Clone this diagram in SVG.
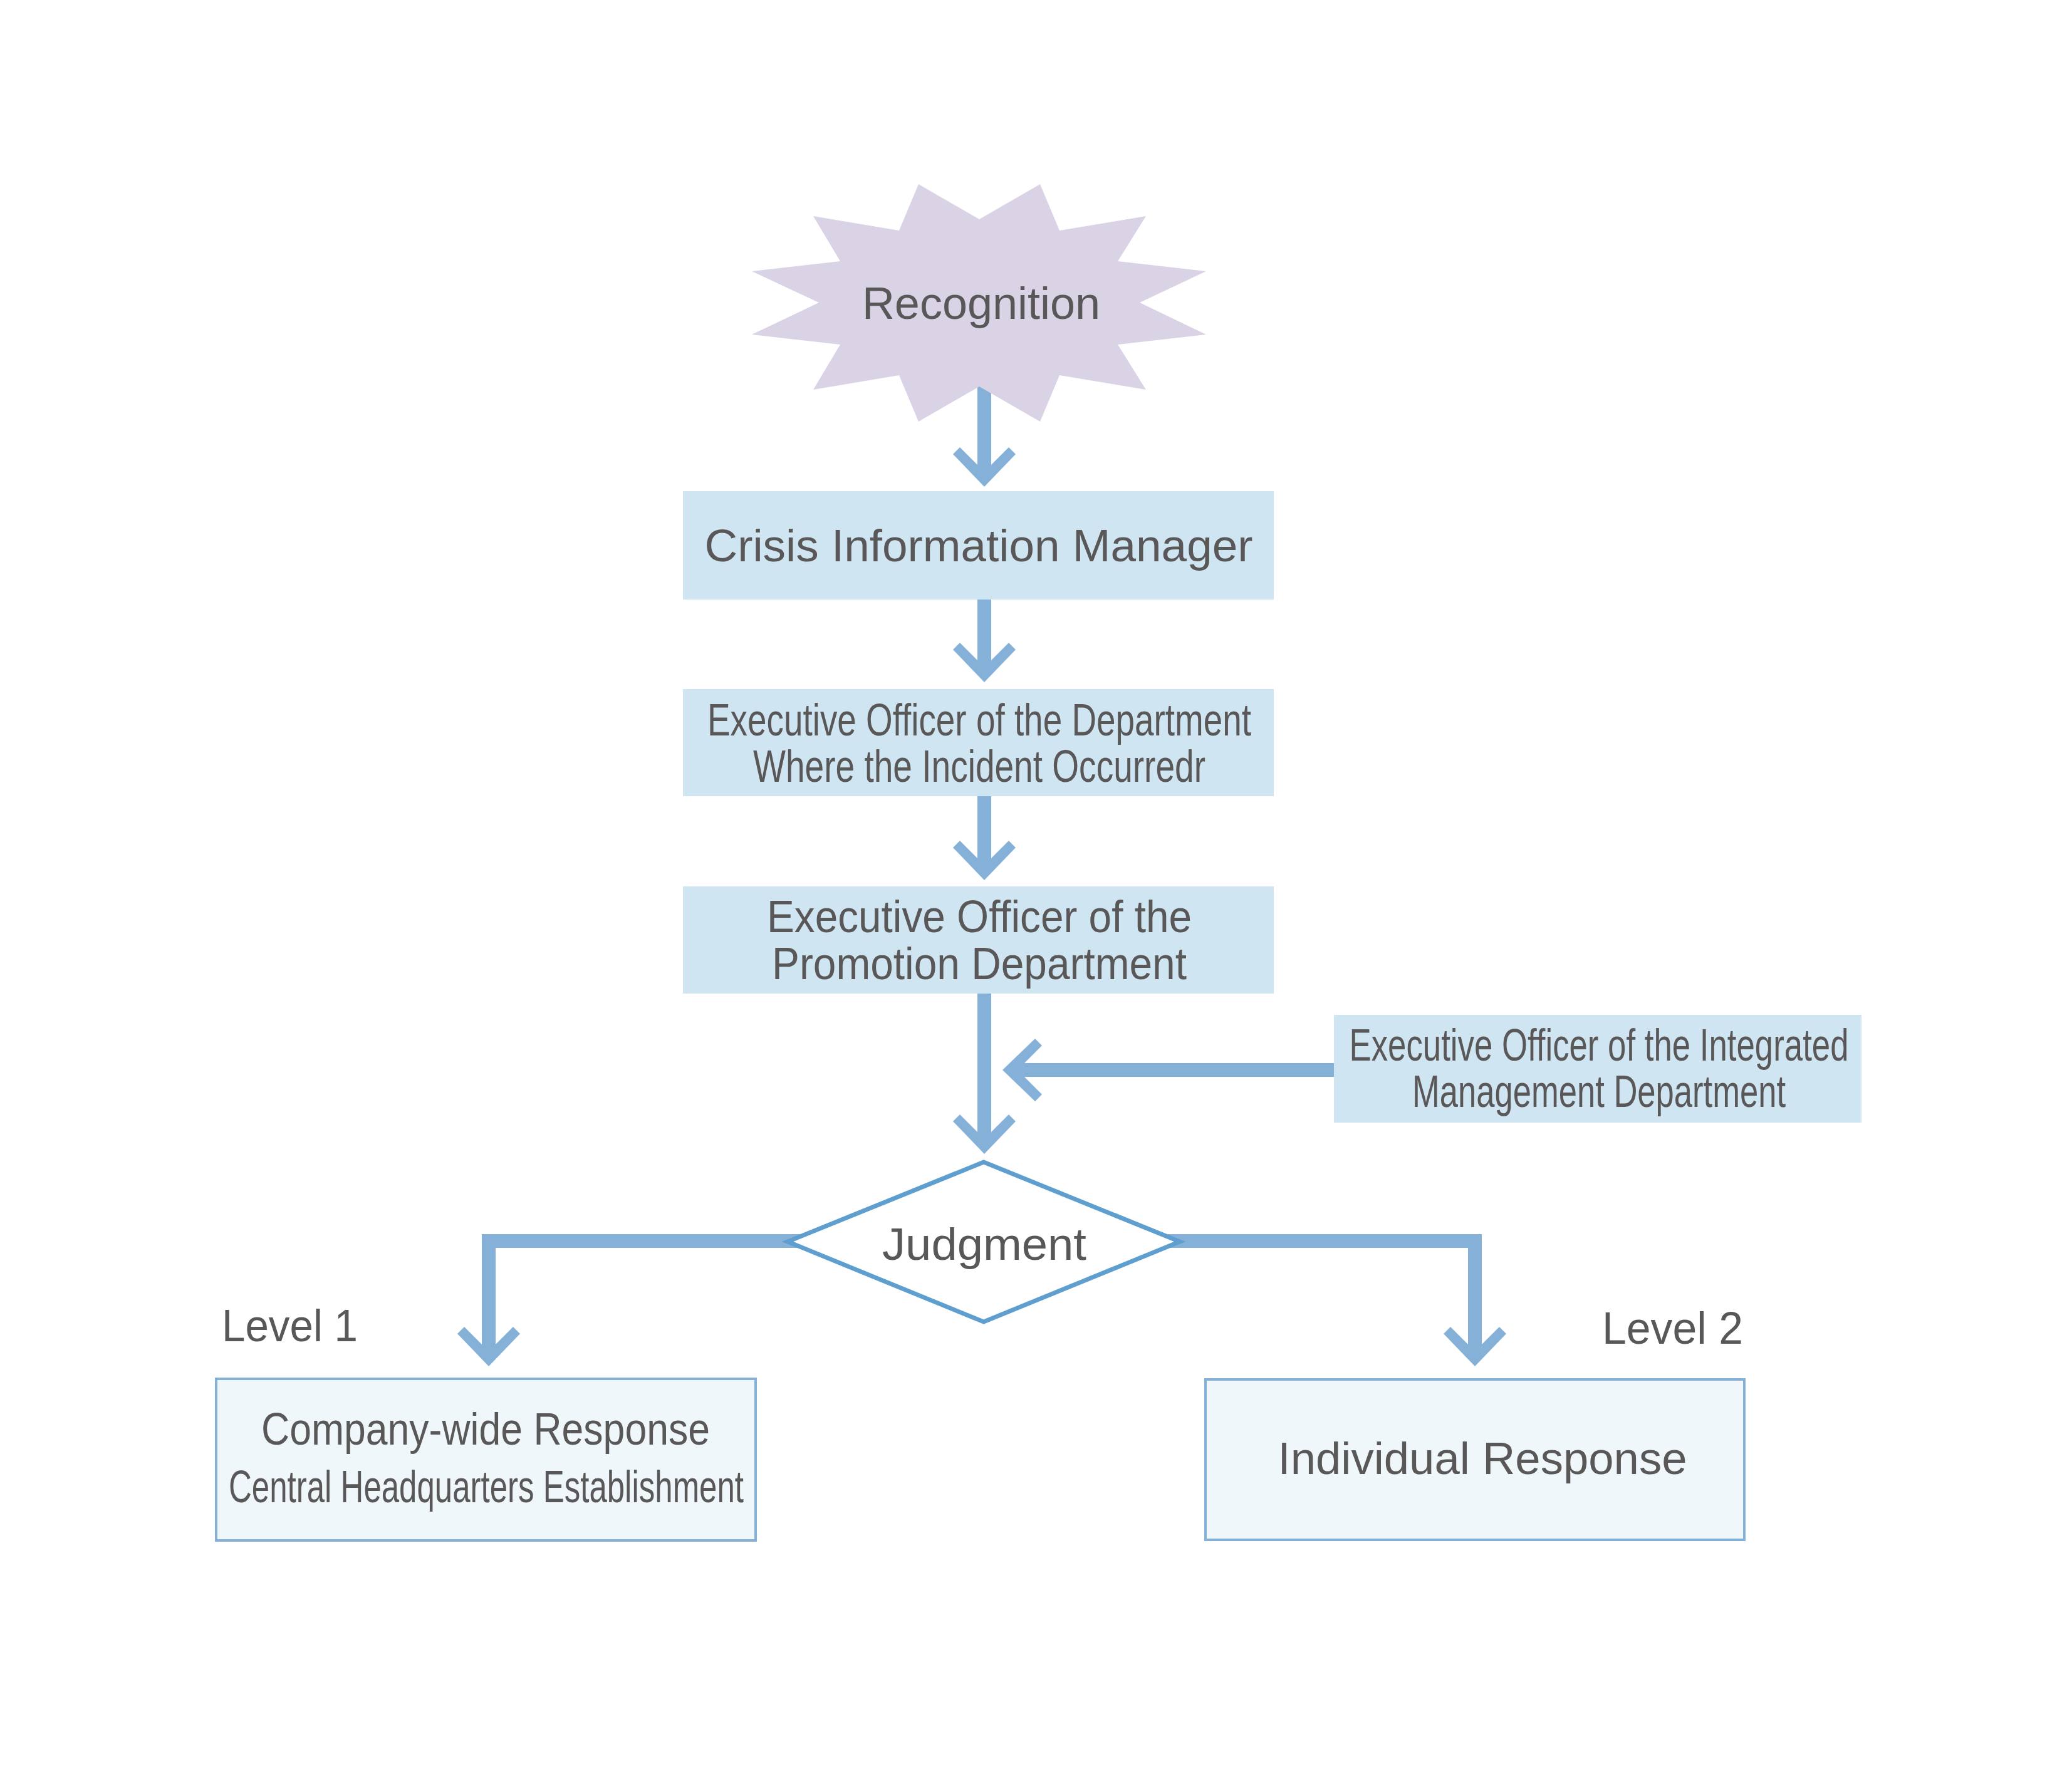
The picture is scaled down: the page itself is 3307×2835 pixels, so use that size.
<svg xmlns="http://www.w3.org/2000/svg" xmlns:xlink="http://www.w3.org/1999/xlink" width="3307" height="2835" viewBox="0 0 3307 2835">
<style>
.t{font-family:"Liberation Sans",Arial,Helvetica,sans-serif;font-size:72px;fill:#595757;text-anchor:middle}
.lvl{font-family:"Liberation Sans",Arial,Helvetica,sans-serif;font-size:72px;fill:#595757}
.box{fill:#cfe5f2}
.resp{fill:#eff7fb;stroke:#85b1d9;stroke-width:4}
.shaft{fill:none;stroke:#85b1d9;stroke-width:22;stroke-linejoin:miter}
.head{fill:#85b1d9}
</style>
<defs>
<path id="chev" d="M0 0 L-50 -52 L-39 -63 L0 -24 L39 -63 L50 -52 Z"/>
</defs>
<rect width="3307" height="2835" fill="#ffffff"/>
<g id="connectors">
<path class="shaft" d="M1571 600 V760"/>
<use xlink:href="#chev" class="head" transform="translate(1571,777)"/>
<path class="shaft" d="M1571 957 V1070"/>
<use xlink:href="#chev" class="head" transform="translate(1571,1089)"/>
<path class="shaft" d="M1571 1271 V1386"/>
<use xlink:href="#chev" class="head" transform="translate(1571,1405)"/>
<path class="shaft" d="M1571 1586 V1823"/>
<use xlink:href="#chev" class="head" transform="translate(1571,1842)"/>
<path class="shaft" d="M2129 1708 H1620"/>
<use xlink:href="#chev" class="head" transform="translate(1600,1708) rotate(90)"/>
<path class="shaft" d="M1300 1981 H780 V2162"/>
<use xlink:href="#chev" class="head" transform="translate(780,2181)"/>
<path class="shaft" d="M1840 1981 H2354 V2162"/>
<use xlink:href="#chev" class="head" transform="translate(2354,2181)"/>
</g>
<g id="recognition">
<polygon fill="#dad3e6" points="1563,350 1660,294 1691,368 1829,345 1784,417 1925,433 1819,483 1925,534 1784,550 1829,622 1691,599 1660,673 1563,617 1466,673 1435,599 1298,622 1341,550 1200,534 1307,483 1200,433 1341,417 1298,345 1435,368 1466,294"/>
<text class="t" x="1566" y="509">Recognition</text>
</g>
<g id="crisis-information-manager">
<rect class="box" x="1090" y="784" width="943" height="173"/>
<text class="t" x="1562" y="896" textLength="875" lengthAdjust="spacingAndGlyphs">Crisis Information Manager</text>
</g>
<g id="executive-officer-incident">
<rect class="box" x="1090" y="1100" width="943" height="171"/>
<text class="t" x="1563" y="1174" textLength="868" lengthAdjust="spacingAndGlyphs">Executive Officer of the Department</text>
<text class="t" x="1563" y="1248" textLength="722" lengthAdjust="spacingAndGlyphs">Where the Incident Occurredr</text>
</g>
<g id="executive-officer-promotion">
<rect class="box" x="1090" y="1415" width="943" height="171"/>
<text class="t" x="1563" y="1488" textLength="678" lengthAdjust="spacingAndGlyphs">Executive Officer of the</text>
<text class="t" x="1563" y="1563" textLength="662" lengthAdjust="spacingAndGlyphs">Promotion Department</text>
</g>
<g id="executive-officer-integrated">
<rect class="box" x="2129" y="1620" width="842" height="172"/>
<text class="t" x="2552" y="1693" textLength="797" lengthAdjust="spacingAndGlyphs">Executive Officer of the Integrated</text>
<text class="t" x="2552" y="1767" textLength="596" lengthAdjust="spacingAndGlyphs">Management Department</text>
</g>
<g id="judgment">
<polygon points="1570,1855 1883,1982 1570,2110 1257,1982" fill="#ffffff" stroke="#5e9fd0" stroke-width="7"/>
<text class="t" x="1571" y="2011" textLength="326" lengthAdjust="spacingAndGlyphs">Judgment</text>
</g>
<g id="level-1">
<text class="lvl" x="354" y="2141" textLength="217" lengthAdjust="spacingAndGlyphs">Level 1</text>
</g>
<g id="company-wide-response">
<rect class="resp" x="345" y="2201" width="861" height="258"/>
<text class="t" x="775" y="2306" textLength="716" lengthAdjust="spacingAndGlyphs">Company-wide Response</text>
<text class="t" x="776" y="2398" textLength="822" lengthAdjust="spacingAndGlyphs">Central Headquarters Establishment</text>
</g>
<g id="level-2">
<text class="lvl" x="2557" y="2145" textLength="225" lengthAdjust="spacingAndGlyphs">Level 2</text>
</g>
<g id="individual-response">
<rect class="resp" x="1924" y="2202" width="860" height="256"/>
<text class="t" x="2366" y="2353" textLength="653" lengthAdjust="spacingAndGlyphs">Individual Response</text>
</g>
</svg>
